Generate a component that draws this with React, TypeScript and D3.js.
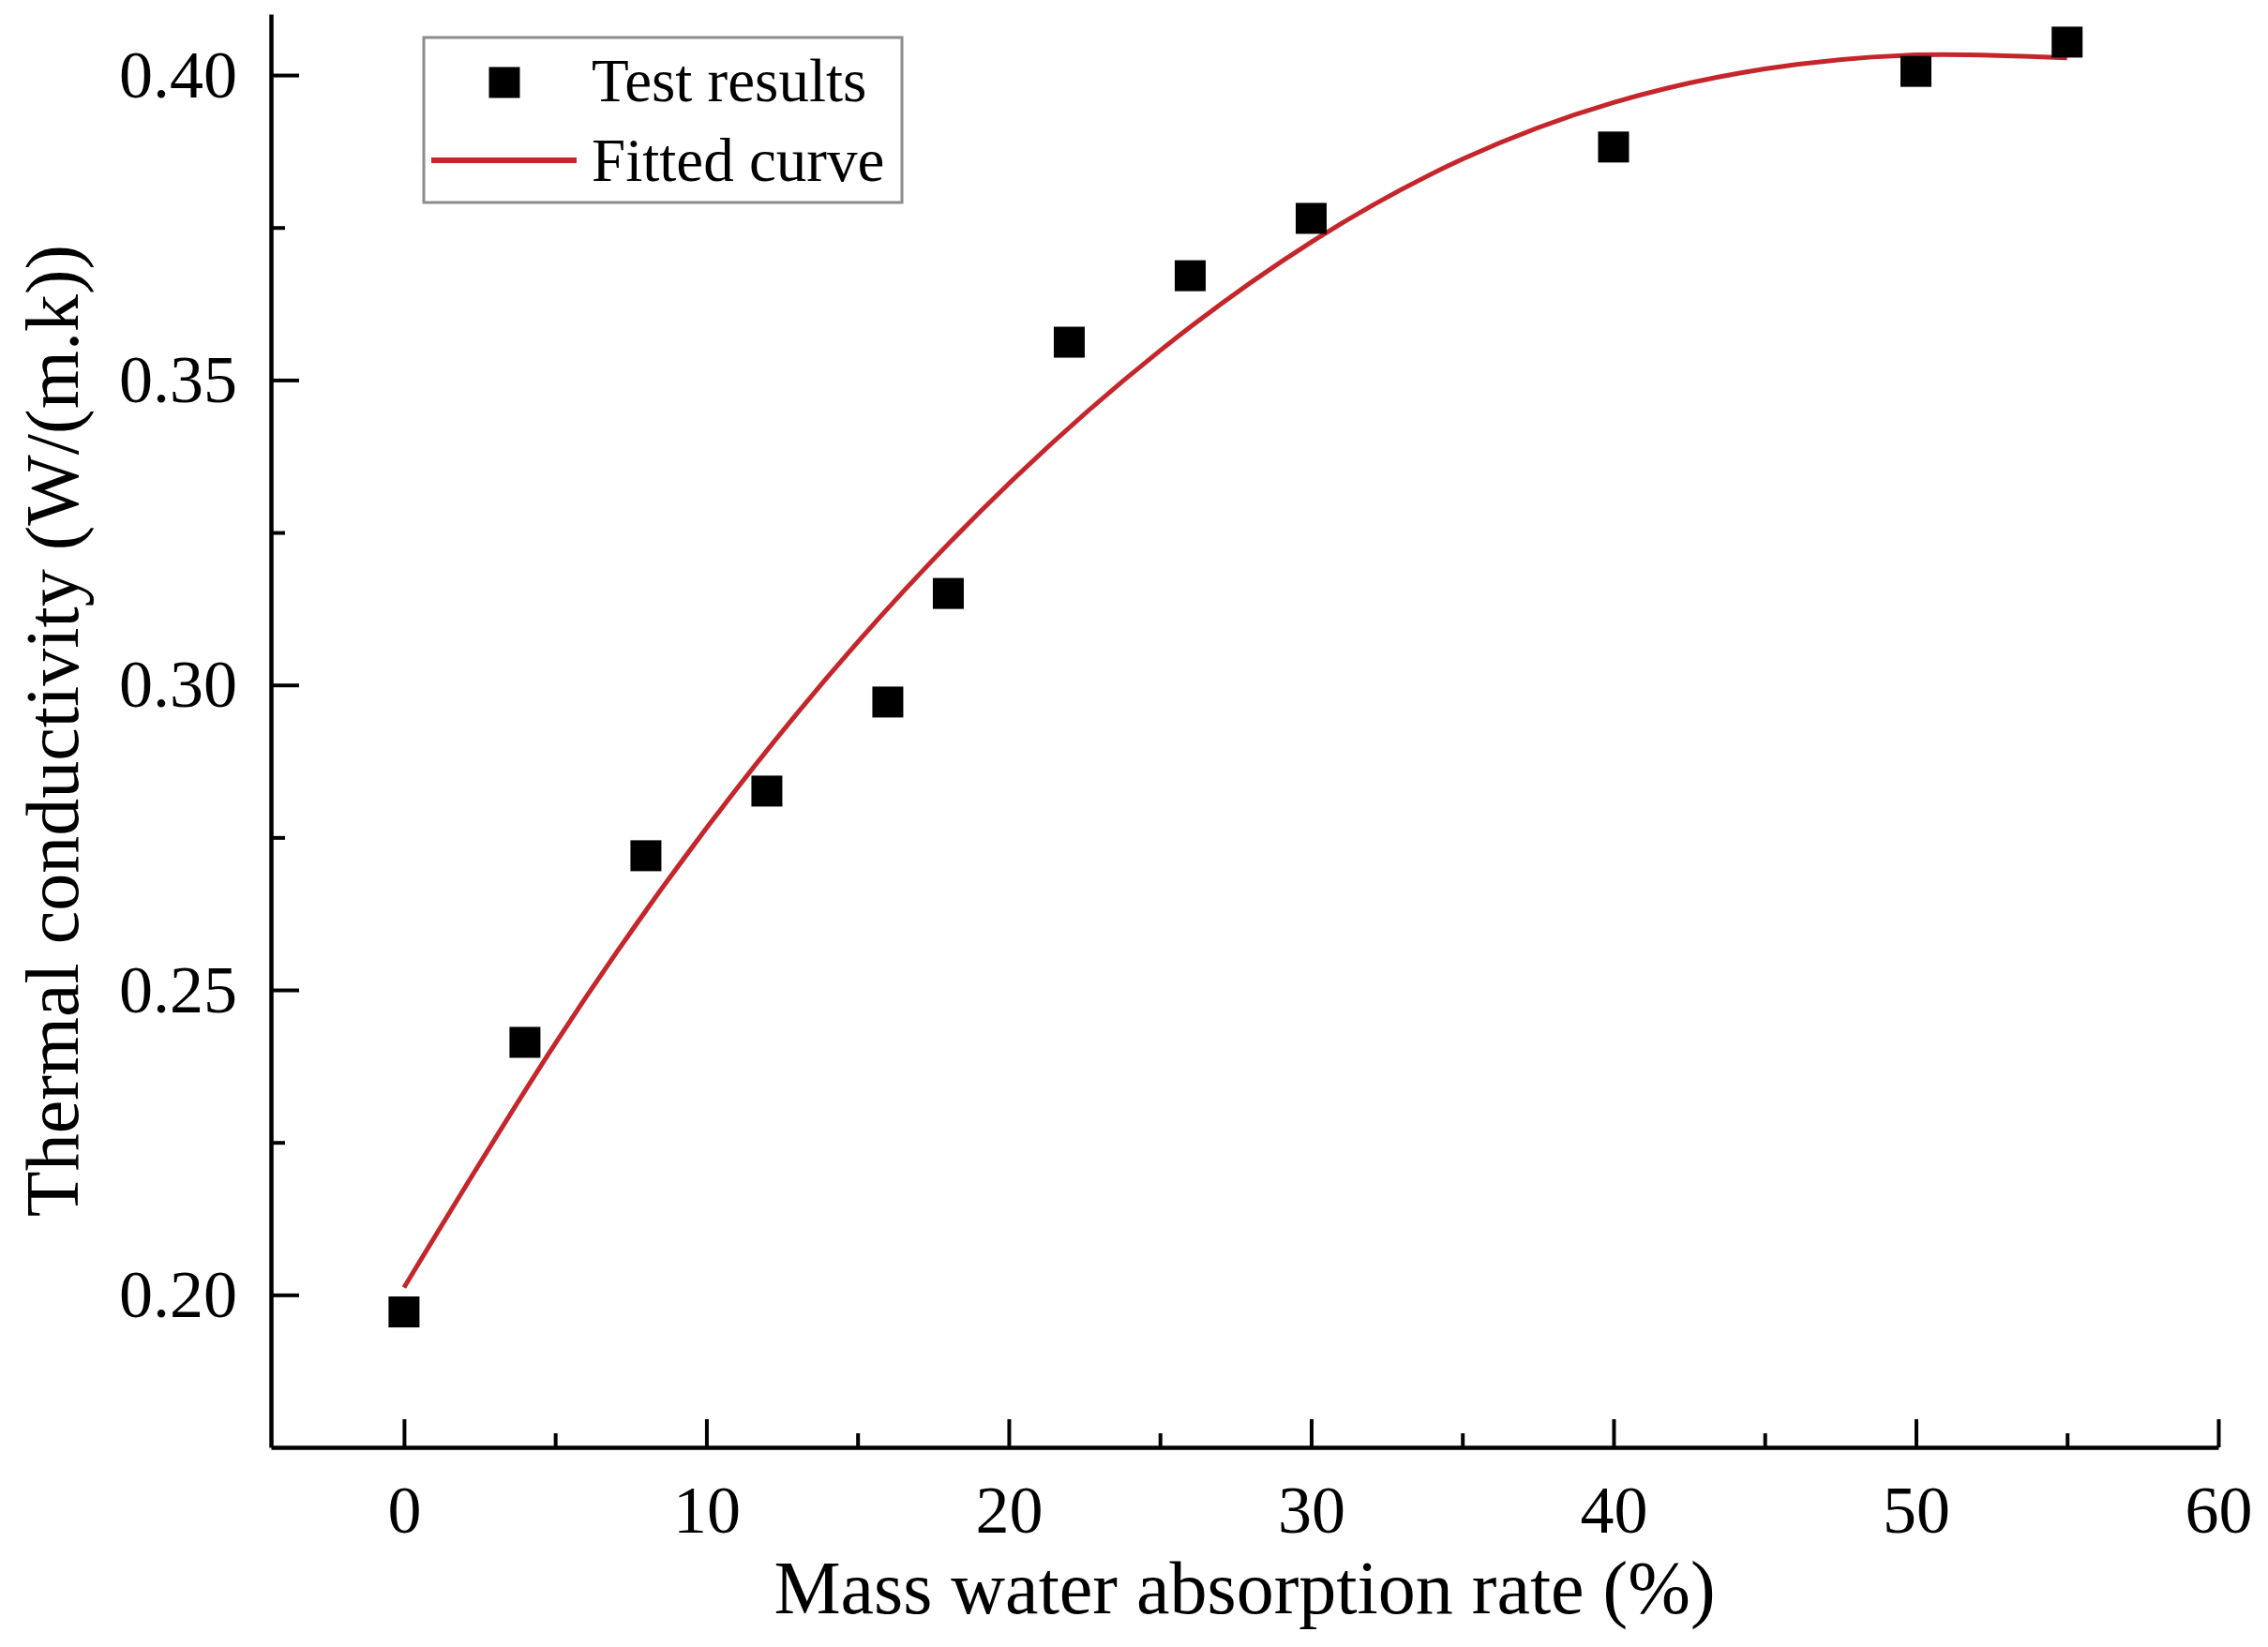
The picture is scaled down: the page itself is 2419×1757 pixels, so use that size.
import { useRef, useEffect } from 'react';
import * as d3 from 'd3';

// measured points (mass water absorption %, thermal conductivity)
const absorption = [0, 4, 8, 12, 16, 18, 22, 26, 30, 40, 50, 55];
const conductivity = [0.1972, 0.2414, 0.2720, 0.2826, 0.2972, 0.3150, 0.3562, 0.3671, 0.3765, 0.3882, 0.4006, 0.4054];

// fitted curve
const fitX = [0, 5, 10, 15, 20, 25, 30, 35, 40, 45, 50, 55];
const fitY = [0.2012, 0.2412, 0.2765, 0.3070, 0.3330, 0.3548, 0.3726, 0.3862, 0.3955, 0.4010, 0.4033, 0.4028];

const xMajor = [0, 10, 20, 30, 40, 50, 60];
const xMinor = [5, 15, 25, 35, 45, 55];
const yMajor = [0.20, 0.25, 0.30, 0.35, 0.40];
const yMinor = [0.225, 0.275, 0.325, 0.375];

const legendLabels = ['Test results', 'Fitted curve'];

const W = 2419;
const H = 1757;
const FONT = '"Liberation Serif", "Times New Roman", serif';
const RED = '#c4262b';

export default function App() {
    const ref = useRef<SVGSVGElement>(null);

    useEffect(() => {
        if (!ref.current) return;
        const svg = d3.select(ref.current);
        svg.selectAll('*').remove();

        const left = 289, right = 2366, top = 15, bottom = 1544;

        const x = d3.scaleLinear().domain([-4.4, 60]).range([left, right]);
        const y = d3.scaleLinear().domain([0.175, 0.41]).range([bottom, top]);

        svg.append('rect').attr('width', W).attr('height', H).attr('fill', '#fff');

        // minor ticks first
        const gxMinor = svg.append('g')
            .attr('transform', `translate(0,${bottom})`)
            .call(d3.axisBottom(x).tickValues(xMinor).tickSizeInner(-15).tickSizeOuter(0).tickFormat(() => ''));
        gxMinor.select('.domain').remove();
        gxMinor.selectAll('line').attr('stroke', '#000').attr('stroke-width', 4);

        const gyMinor = svg.append('g')
            .attr('transform', `translate(${left},0)`)
            .call(d3.axisLeft(y).tickValues(yMinor).tickSizeInner(-15).tickSizeOuter(0).tickFormat(() => ''));
        gyMinor.select('.domain').remove();
        gyMinor.selectAll('line').attr('stroke', '#000').attr('stroke-width', 4);

        // major axes
        const gx = svg.append('g')
            .attr('transform', `translate(0,${bottom})`)
            .call(d3.axisBottom(x).tickValues(xMajor).tickSizeInner(-30).tickSizeOuter(0).tickPadding(40).tickFormat(d3.format('d')));
        gx.select('.domain').attr('stroke', '#000').attr('stroke-width', 4.5);
        gx.selectAll('line').attr('stroke', '#000').attr('stroke-width', 4);
        gx.selectAll('text')
            .attr('font-family', FONT).attr('font-size', 72).attr('fill', '#000')
            .attr('dy', '0.71em');

        const gy = svg.append('g')
            .attr('transform', `translate(${left},0)`)
            .call(d3.axisLeft(y).tickValues(yMajor).tickSizeInner(-30).tickSizeOuter(0).tickPadding(36).tickFormat(d3.format('.2f')));
        gy.select('.domain').attr('stroke', '#000').attr('stroke-width', 4.5);
        gy.selectAll('line').attr('stroke', '#000').attr('stroke-width', 4);
        gy.selectAll('text')
            .attr('font-family', FONT).attr('font-size', 72).attr('fill', '#000');

        // axis titles
        svg.append('text')
            .attr('x', (left + right) / 2).attr('y', 1721)
            .attr('text-anchor', 'middle')
            .attr('font-family', FONT).attr('font-size', 80).attr('fill', '#000')
            .text('Mass water absorption rate (%)');

        svg.append('text')
            .attr('transform', `translate(83,${(top + bottom) / 2}) rotate(-90)`)
            .attr('text-anchor', 'middle')
            .attr('font-family', FONT).attr('font-size', 80).attr('fill', '#000')
            .text('Thermal conductivity (W/(m.k))');

        // fitted curve
        const fit = fitX.map((v, i) => [v, fitY[i]] as [number, number]);
        const line = d3.line<[number, number]>()
            .x(d => x(d[0]))
            .y(d => y(d[1]))
            .curve(d3.curveNatural);
        svg.append('path')
            .datum(fit)
            .attr('d', line)
            .attr('fill', 'none')
            .attr('stroke', RED)
            .attr('stroke-width', 5);

        // test points
        const size = 33;
        svg.append('g')
            .selectAll('rect')
            .data(absorption.map((v, i) => [v, conductivity[i]]))
            .join('rect')
            .attr('x', d => x(d[0]) - size / 2)
            .attr('y', d => y(d[1]) - size / 2)
            .attr('width', size)
            .attr('height', size)
            .attr('fill', '#000');

        // legend
        const lg = svg.append('g');
        lg.append('rect')
            .attr('x', 452).attr('y', 40).attr('width', 510).attr('height', 176)
            .attr('fill', '#fff').attr('stroke', '#8c8c8c').attr('stroke-width', 3);
        lg.append('rect')
            .attr('x', 538 - size / 2).attr('y', 88 - size / 2)
            .attr('width', size).attr('height', size).attr('fill', '#000');
        lg.append('line')
            .attr('x1', 460).attr('x2', 615).attr('y1', 171).attr('y2', 171)
            .attr('stroke', RED).attr('stroke-width', 6);
        lg.selectAll('text.lbl')
            .data(legendLabels)
            .join('text')
            .attr('class', 'lbl')
            .attr('x', 631)
            .attr('y', (_, i) => 108 + i * 85)
            .attr('font-family', FONT).attr('font-size', 65).attr('fill', '#000')
            .text(d => d);
    }, []);

    return (
        <svg ref={ref} width={W} height={H}
            style={{ position: 'absolute', left: 0, top: 0, display: 'block' }} />
    );
}
